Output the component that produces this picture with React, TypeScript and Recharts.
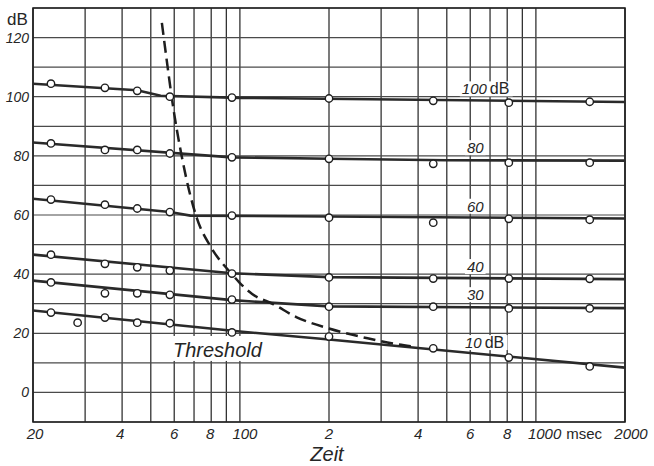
import React from 'react';
import {
  ComposedChart,
  Line,
  Scatter,
  XAxis,
  YAxis,
  CartesianGrid,
  ReferenceDot,
  ReferenceArea,
} from 'recharts';

// ---- axes ----
const xTicks = [20, 30, 40, 50, 60, 70, 80, 90, 100, 200, 300, 400, 500, 600, 700, 800, 900, 1000, 2000];
const xTickLabels: Record<number, string> = {
  20: '20', 40: '4', 60: '6', 80: '8', 100: '100', 200: '2', 400: '4', 600: '6', 800: '8', 1000: '1000', 2000: '2000',
};
const yTicks = [-10, 0, 10, 20, 30, 40, 50, 60, 70, 80, 90, 100, 110, 120, 130];
const yTickLabels = [0, 20, 40, 60, 80, 100, 120];

// ---- fitted lines (msec, dB) ----
const line100 = [
  { x: 20, y: 104.4 }, { x: 45, y: 102.2 }, { x: 54, y: 100.3 }, { x: 100, y: 99.6 }, { x: 2000, y: 98.2 },
];
const line80 = [
  { x: 20, y: 84.5 }, { x: 94, y: 79.5 }, { x: 200, y: 79.0 }, { x: 500, y: 78.5 }, { x: 2000, y: 78.4 },
];
const line60 = [
  { x: 20, y: 65.5 }, { x: 58, y: 61.0 }, { x: 68, y: 59.8 }, { x: 2000, y: 58.8 },
];
const line40 = [
  { x: 20, y: 46.6 }, { x: 94, y: 40.3 }, { x: 200, y: 39.0 }, { x: 2000, y: 38.3 },
];
const line30 = [
  { x: 20, y: 37.8 }, { x: 94, y: 31.2 }, { x: 200, y: 29.1 }, { x: 2000, y: 28.5 },
];
const line10 = [
  { x: 20, y: 27.7 }, { x: 100, y: 20.6 }, { x: 200, y: 17.9 }, { x: 400, y: 15.0 }, { x: 2000, y: 8.4 },
];

// ---- measured points ----
const marks100 = [
  { x: 23, y: 104.4 }, { x: 35, y: 103 }, { x: 45, y: 102 }, { x: 58, y: 100 }, { x: 94, y: 99.7 },
  { x: 200, y: 99.4 }, { x: 450, y: 98.6 }, { x: 810, y: 98 }, { x: 1520, y: 98.3 },
];
const marks80 = [
  { x: 23, y: 84.2 }, { x: 35, y: 82 }, { x: 45, y: 82 }, { x: 58, y: 80.8 }, { x: 94, y: 79.5 },
  { x: 200, y: 79 }, { x: 450, y: 77.3 }, { x: 810, y: 77.7 }, { x: 1520, y: 77.7 },
];
const marks60 = [
  { x: 23, y: 65.2 }, { x: 35, y: 63.5 }, { x: 45, y: 62.2 }, { x: 58, y: 61 }, { x: 94, y: 59.8 },
  { x: 200, y: 59.1 }, { x: 450, y: 57.4 }, { x: 810, y: 58.7 }, { x: 1520, y: 58.4 },
];
const marks40 = [
  { x: 23, y: 46.6 }, { x: 35, y: 43.5 }, { x: 45, y: 42.3 }, { x: 58, y: 41.2 }, { x: 94, y: 40.2 },
  { x: 200, y: 38.9 }, { x: 450, y: 38.5 }, { x: 810, y: 38.5 }, { x: 1520, y: 38.4 },
];
const marks30 = [
  { x: 23, y: 37.2 }, { x: 35, y: 33.5 }, { x: 45, y: 33.5 }, { x: 58, y: 33 }, { x: 94, y: 31.4 },
  { x: 200, y: 29 }, { x: 450, y: 29 }, { x: 810, y: 28.4 }, { x: 1520, y: 28.4 },
];
const marks10 = [
  { x: 23, y: 27 }, { x: 28.3, y: 23.6 }, { x: 35, y: 25.3 }, { x: 45, y: 23.6 }, { x: 58, y: 23.4 },
  { x: 94, y: 20.3 }, { x: 200, y: 18.9 }, { x: 450, y: 14.9 }, { x: 810, y: 11.8 }, { x: 1520, y: 8.8 },
];

// ---- dashed threshold curve ----
const thresholdCurve = [
  { x: 54.5, y: 125 }, { x: 57, y: 110 }, { x: 59, y: 99 }, { x: 64, y: 78.5 }, { x: 71.5, y: 59 },
  { x: 80, y: 49 }, { x: 94, y: 40 }, { x: 100, y: 37 }, { x: 110, y: 33.3 }, { x: 130, y: 29.8 },
  { x: 155, y: 25.5 }, { x: 200, y: 21.6 }, { x: 270, y: 18.3 }, { x: 330, y: 16.5 }, { x: 380, y: 15.6 },
];

// ---- line labels ----
const lineLabels = [
  { x: 562, y: 100.8, num: '100', unit: 'dB' },
  { x: 585, y: 80.9, num: '80', unit: '' },
  { x: 585, y: 61.1, num: '60', unit: '' },
  { x: 585, y: 40.7, num: '40', unit: '' },
  { x: 585, y: 31.2, num: '30', unit: '' },
  { x: 576, y: 15.0, num: '10', unit: 'dB' },
];
const thresholdLabel = { x: 59.4, y: 12, text: 'Threshold' };

const FONT = '"Liberation Sans", Arial, sans-serif';
const INK = '#262626';

const XTick = (props: any) => {
  const { x, y, payload } = props;
  const v = payload.value;
  const lab = xTickLabels[v];
  if (!lab) return <g />;
  if (v === 1000) {
    return (
      <text x={x - 8} y={y + 9} textAnchor="start" fontFamily={FONT} fontSize={15} fill={INK}>
        <tspan fontStyle="italic">1000</tspan>
        <tspan fontStyle="normal" dx={5}>msec</tspan>
      </text>
    );
  }
  const shift: Record<number, number> = { 20: 2, 100: 5, 2000: 6, 40: -2, 80: -1 };
  return (
    <text x={x + (shift[v] || 0)} y={y + 9} textAnchor="middle" fontFamily={FONT} fontStyle="italic" fontSize={15} fill={INK}>
      {lab}
    </text>
  );
};

const YTick = (props: any) => {
  const { x, y, payload } = props;
  if (!yTickLabels.includes(payload.value)) return <g />;
  return (
    <text x={x + 4} y={y + 5} textAnchor="end" fontFamily={FONT} fontStyle="italic" fontSize={14} fill={INK}>
      {payload.value}
    </text>
  );
};

const Marker = (props: any) => {
  const { cx, cy } = props;
  if (cx == null || cy == null) return <g />;
  return <circle cx={cx} cy={cy} r={3.7} fill="#ffffff" stroke="#1e1e1e" strokeWidth={1.4} />;
};

const makeLineLabel = (num: string, unit: string) => (p: any) => {
  const { cx, cy } = p;
  const numW = num.length * 8.3;
  const w = numW + (unit ? 24 : 0);
  return (
    <g>
      <rect x={cx - 2} y={cy - 13} width={w + 4} height={15} fill="#ffffff" />
      <text x={cx} y={cy} fontFamily={FONT} fontSize={15} fill={INK}>
        <tspan fontStyle="italic">{num}</tspan>
        {unit ? <tspan fontStyle="normal" fontSize={16} dx={3}>{unit}</tspan> : null}
      </text>
    </g>
  );
};

const ThresholdLabel = (p: any) => {
  const { cx, cy } = p;
  return (
    <g>
      <rect x={cx - 5} y={cy - 21} width={97} height={25} fill="#ffffff" />
      <text x={cx} y={cy} fontFamily={FONT} fontStyle="italic" fontSize={20} fill={INK}>
        {thresholdLabel.text}
      </text>
    </g>
  );
};

const lineStyle = { stroke: '#2a2a2a', strokeWidth: 2.6 };

export default function App() {
  return (
    <div style={{ position: 'absolute', left: 0, top: 0, background: '#ffffff', width: 654, height: 466 }}>
      <ComposedChart
        width={654}
        height={466}
        margin={{ top: 8, right: 29, bottom: 0, left: 0 }}
        style={{ background: '#ffffff' }}
      >
        <CartesianGrid horizontal={false} vertical stroke="#333" strokeWidth={1.3} />
        <CartesianGrid horizontal vertical={false} stroke="#4a4a4a" strokeWidth={1.2} />
        <XAxis
          dataKey="x"
          type="number"
          scale="log"
          domain={[20, 2000]}
          ticks={xTicks}
          interval={0}
          allowDataOverflow
          axisLine={false}
          tickLine={false}
          tickSize={6}
          tickMargin={2}
          height={44}
          tick={<XTick />}
          label={{
            content: (p: any) => {
              const vb = p.viewBox || { x: 33, y: 422, width: 592, height: 44 };
              return (
                <text
                  x={vb.x + vb.width / 2 - 2}
                  y={vb.y + 39}
                  textAnchor="middle"
                  fontFamily={FONT}
                  fontStyle="italic"
                  fontSize={20}
                  fill={INK}
                >
                  Zeit
                </text>
              );
            },
          }}
        />
        <YAxis
          dataKey="y"
          type="number"
          domain={[-10, 130]}
          ticks={yTicks}
          interval={0}
          allowDataOverflow
          axisLine={false}
          tickLine={false}
          tickSize={6}
          tickMargin={2}
          width={33}
          tick={<YTick />}
          label={{
            content: (p: any) => {
              const vb = p.viewBox || { x: 0, y: 8, width: 33, height: 414 };
              return (
                <text x={vb.x + 7} y={vb.y + 17} fontFamily={FONT} fontSize={17} fill={INK}>
                  dB
                </text>
              );
            },
          }}
        />
        <ReferenceArea x1={20} x2={2000} y1={-10} y2={130} fill="none" stroke="#1e1e1e" strokeWidth={1.6} fillOpacity={0} />

        {lineLabels.map((l) => (
          <ReferenceDot key={l.num} x={l.x} y={l.y} r={0} shape={makeLineLabel(l.num, l.unit)} />
        ))}
        <ReferenceDot x={thresholdLabel.x} y={thresholdLabel.y} r={0} shape={ThresholdLabel} />

        <Line data={line100} dataKey="y" type="linear" dot={false} isAnimationActive={false} {...lineStyle} />
        <Line data={line80} dataKey="y" type="linear" dot={false} isAnimationActive={false} {...lineStyle} />
        <Line data={line60} dataKey="y" type="linear" dot={false} isAnimationActive={false} {...lineStyle} />
        <Line data={line40} dataKey="y" type="linear" dot={false} isAnimationActive={false} {...lineStyle} />
        <Line data={line30} dataKey="y" type="linear" dot={false} isAnimationActive={false} {...lineStyle} />
        <Line data={line10} dataKey="y" type="linear" dot={false} isAnimationActive={false} {...lineStyle} />
        <Line
          data={thresholdCurve}
          dataKey="y"
          type="monotone"
          dot={false}
          isAnimationActive={false}
          stroke="#1e1e1e"
          strokeWidth={2.5}
          strokeDasharray="12 6"
        />

        <Scatter data={marks100} dataKey="y" shape={Marker} isAnimationActive={false} />
        <Scatter data={marks80} dataKey="y" shape={Marker} isAnimationActive={false} />
        <Scatter data={marks60} dataKey="y" shape={Marker} isAnimationActive={false} />
        <Scatter data={marks40} dataKey="y" shape={Marker} isAnimationActive={false} />
        <Scatter data={marks30} dataKey="y" shape={Marker} isAnimationActive={false} />
        <Scatter data={marks10} dataKey="y" shape={Marker} isAnimationActive={false} />
      </ComposedChart>
    </div>
  );
}
